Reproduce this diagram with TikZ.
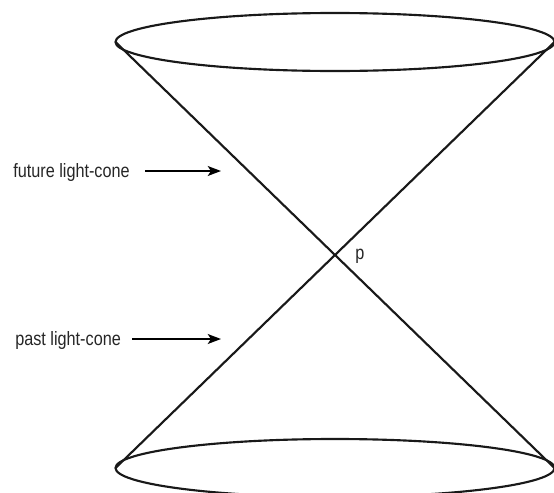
\documentclass[tikz,border=0pt]{standalone}
\usepackage{fontspec}
\setmainfont{Liberation Sans}[FakeStretch=0.84]
\usetikzlibrary{arrows.meta}
\begin{document}
\begin{tikzpicture}[x=0.75pt,y=-0.75pt,
  cone/.style={line width=1.6pt,black!90},
  pointer/.style={line width=1.1pt,-{Stealth[length=10pt,width=7.5pt,inset=2.5pt]}},
  lbl/.style={inner sep=0pt,font=\fontsize{14.5pt}{16pt}\selectfont,text=black!85}]
\useasboundingbox (0,0) rectangle (554,493);
\clip (0,0) rectangle (554,493);
% ellipses
\draw[cone] (335,42) ellipse [x radius=219.5, y radius=29];
\draw[cone] (335,468) ellipse [x radius=219.5, y radius=29];
\coordinate (tl) at (115.5,42);
\coordinate (tr) at (554.5,42);
\coordinate (bl) at (115.5,468);
\coordinate (br) at (554.5,468);
\draw[cone] (tl) -- (br);
\draw[cone] (tr) -- (bl);
% labels
\node[lbl,anchor=base west] (ft) at (13,177) {future light-cone};
\node[lbl,anchor=base west] (pt) at (15,345.5) {past light-cone};
\node[lbl,anchor=base west] (p) at (355,259) {p};
\coordinate (fa) at (145,171);
\coordinate (fb) at (221,171);
\coordinate (pa) at (132,339);
\coordinate (pb) at (221,339);
\draw[pointer] (fa) -- (fb);
\draw[pointer] (pa) -- (pb);
\end{tikzpicture}
\end{document}
